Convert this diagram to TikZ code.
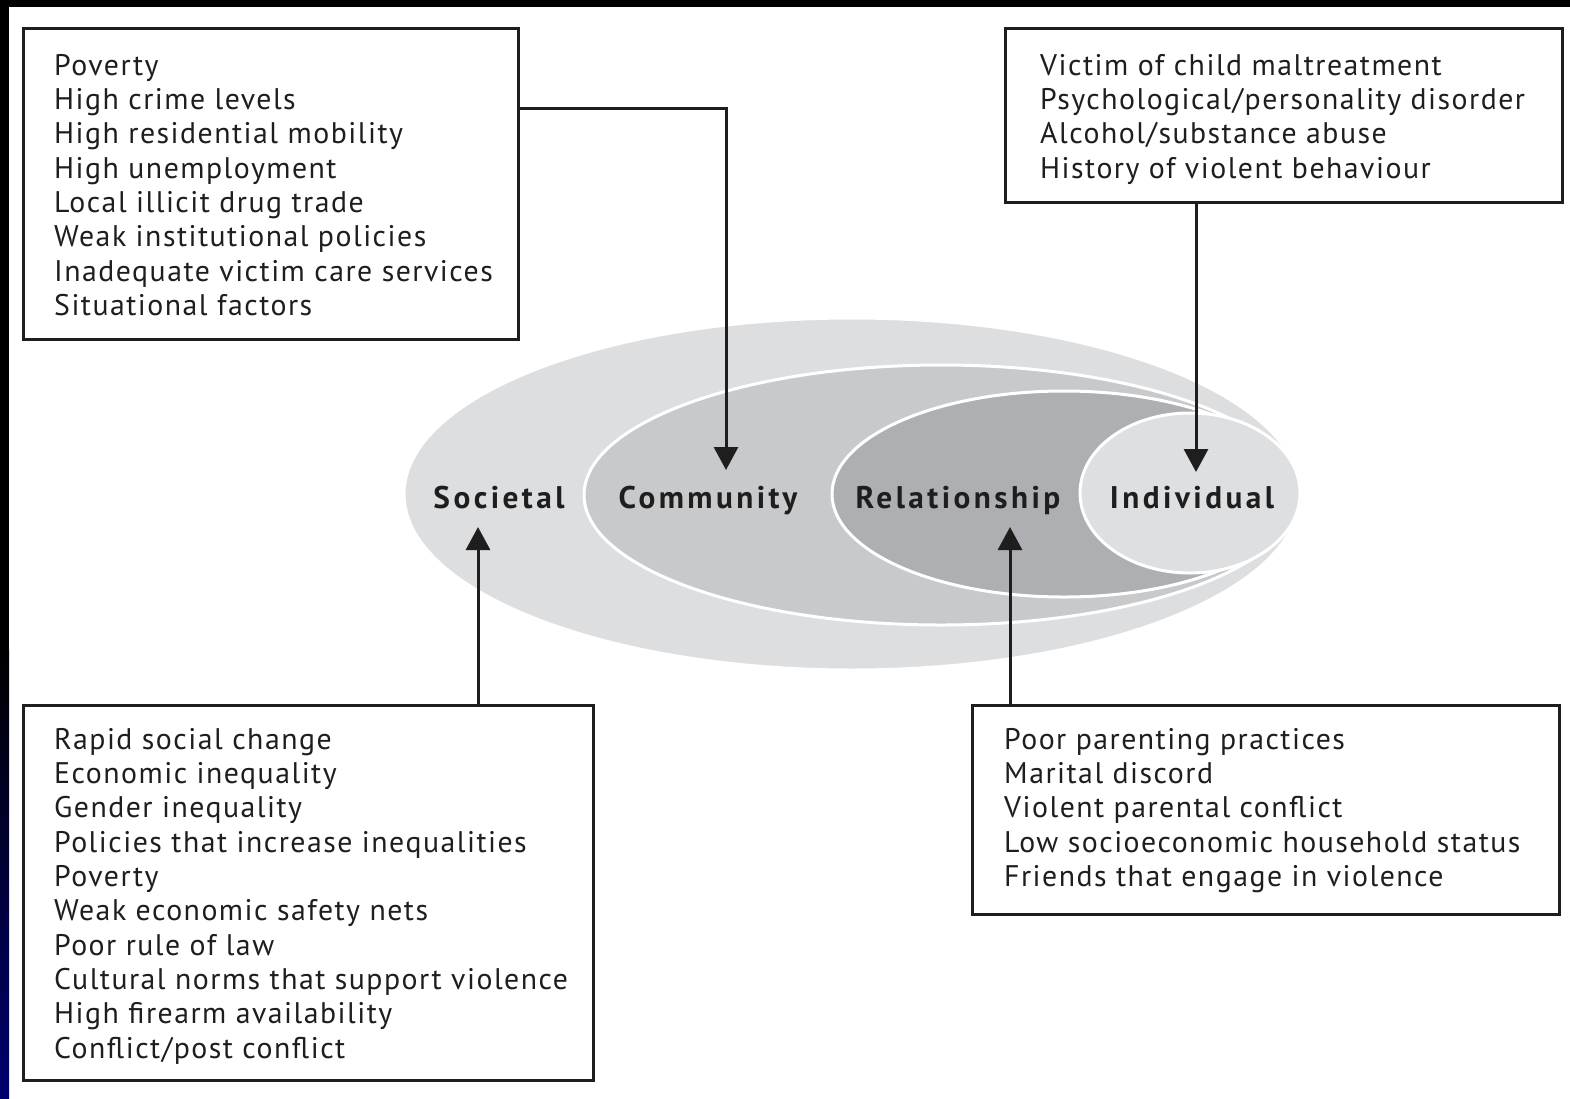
\documentclass[tikz,border=0pt]{standalone}
\usepackage{fontspec}
\setmainfont{PT Sans}
\newfontfamily\factorfont[LetterSpace=5]{PT Sans}
\newfontfamily\levelfont[LetterSpace=11]{PT Sans Bold}
\usetikzlibrary{arrows.meta}
\definecolor{lvlA}{RGB}{221,222,224}
\definecolor{lvlB}{RGB}{200,201,203}
\definecolor{lvlC}{RGB}{173,175,178}
\definecolor{lvlD}{RGB}{222,223,225}
\definecolor{ink}{RGB}{30,30,30}
\definecolor{navy}{RGB}{0,0,110}
\tikzset{
  factorbox/.style={draw=ink, line width=3pt, fill=white, inner sep=0pt, anchor=north west},
  factortext/.style={anchor=north west, inner sep=0pt, align=left, text=ink,
     font=\factorfont\fontsize{29.8}{34.3}\selectfont},
  levellabel/.style={inner sep=0pt, anchor=base, text=ink, font=\levelfont\fontsize{31.3}{31}\selectfont},
  level/.style={draw=white, line width=3pt},
  link/.style={draw=ink, line width=3pt, -{Triangle[width=24pt,length=23pt]}},
}
\begin{document}
\begin{tikzpicture}[x=1pt,y=-1pt]
\useasboundingbox (0,0) rectangle (1570,1098);
\fill[white] (0,0) rectangle (1570,1098);
% frame
\fill[black] (0,0) rectangle (1570,7);
\fill[black] (0,0) rectangle (9,650);
\shade[top color=black, bottom color=navy] (0,650) rectangle (9,1098);

% nested levels
\fill[lvlA, level] (852,494) ellipse [x radius=448, y radius=176];
\fill[lvlB, level] (941,495) ellipse [x radius=357, y radius=130];
\fill[lvlC, level] (1064,494) ellipse [x radius=232, y radius=103];
\fill[lvlD, level] (1190,493) ellipse [x radius=110, y radius=80];

\node[levellabel] (soc) at (499,508) {Societal};
\node[levellabel] (com) at (708,508) {Community};
\node[levellabel] (rel) at (958,508) {Relationship};
\node[levellabel] (ind) at (1192,508) {Individual};

\coordinate (comtip) at (726,470);
\coordinate (indtip) at (1196,472);
\coordinate (soctip) at (478,527);
\coordinate (reltip) at (1010,527);

% boxes
\node[factorbox, minimum width=495pt, minimum height=311pt] (bcom) at (22,27) {};
\node[factortext] (tcom) at (54,54) {Poverty\\High crime levels\\High residential mobility\\High unemployment\\Local illicit drug trade\\Weak institutional policies\\Inadequate victim care services\\Situational factors};

\node[factorbox, minimum width=557pt, minimum height=174pt] (bind) at (1004,27) {};
\node[factortext] (tind) at (1040,54) {Victim of child maltreatment\\Psychological/personality disorder\\Alcohol/substance abuse\\History of violent behaviour};

\node[factorbox, minimum width=570pt, minimum height=375pt] (bsoc) at (22,704) {};
\node[factortext] (tsoc) at (54,728) {Rapid social change\\Economic inequality\\Gender inequality\\Policies that increase inequalities\\Poverty\\Weak economic safety nets\\Poor rule of law\\Cultural norms that support violence\\High firearm availability\\Conflict/post conflict};

\node[factorbox, minimum width=587pt, minimum height=209pt] (brel) at (971,704) {};
\node[factortext] (trel) at (1004,728) {Poor parenting practices\\Marital discord\\Violent parental conflict\\Low socioeconomic household status\\Friends that engage in violence};

% connectors
\draw[link] (bcom.north east |- 0,108) -| (comtip);
\draw[link] (bind.south west -| indtip) -- (indtip);
\draw[link] (bsoc.north west -| soctip) -- (soctip);
\draw[link] (brel.north west -| reltip) -- (reltip);
\end{tikzpicture}
\end{document}
